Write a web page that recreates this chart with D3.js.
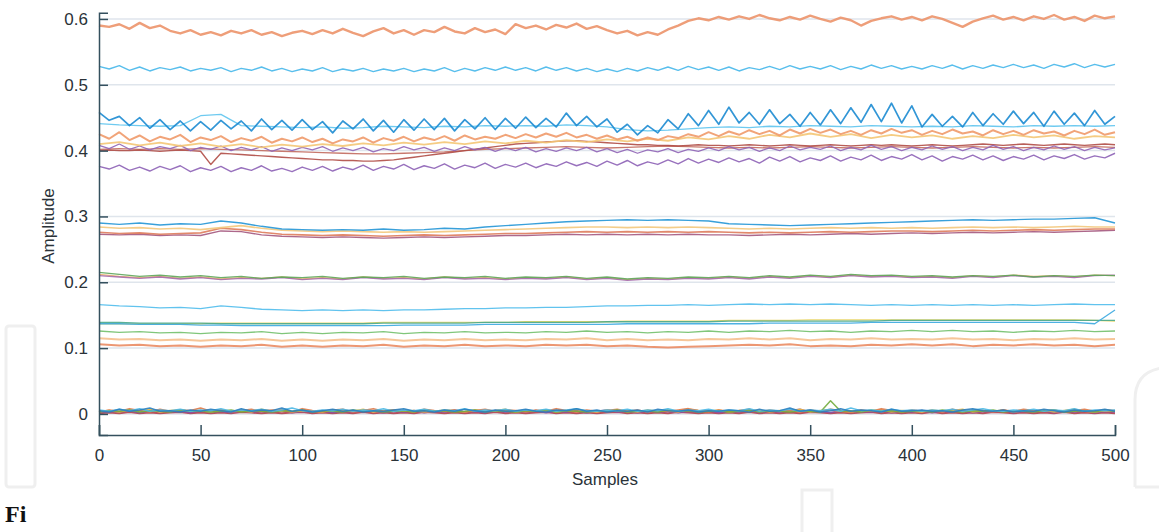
<!DOCTYPE html>
<html>
<head>
<meta charset="utf-8">
<script src="https://cdn.jsdelivr.net/npm/d3@7"></script>
<style>
  body { margin: 0; background: #fff; }
  svg { display: block; font-family: "Liberation Sans", Arial, sans-serif; }
</style>
</head>
<body>
<svg id="chart" width="1159" height="532"></svg>
<script>
// amplitudes in thousandths, samples spread evenly over 0..500
var yTicks = [0, 0.1, 0.2, 0.3, 0.4, 0.5, 0.6]
var xTicks = [0, 50, 100, 150, 200, 250, 300, 350, 400, 450, 500]

// ~0.6 group (step 5)
var topOrange = [590, 588, 592, 585, 594, 586, 590, 582, 578, 583, 576,
  580, 575, 582, 578, 583, 576, 580, 574, 579, 582,
  577, 583, 578, 585, 579, 574, 581, 586, 578, 583,
  576, 583, 580, 588, 581, 578, 586, 580, 584, 577,
  592, 586, 590, 584, 591, 587, 593, 585, 589, 583,
  578, 582, 575, 580, 576, 584, 590, 597, 601, 598,
  603, 599, 604, 600, 606, 601, 598, 603, 599, 605,
  600, 596, 602, 598, 590, 597, 601, 604, 599, 603,
  598, 604, 600, 594, 588, 596, 601, 605, 599, 603,
  598, 604, 600, 606, 599, 603, 597, 605, 601, 604]

var cyan52 = [528, 524, 529, 522, 527, 521, 526, 523, 527, 521, 525,
  522, 526, 520, 525, 522, 527, 521, 525, 520, 524,
  521, 526, 520, 524, 521, 525, 520, 524, 521, 525,
  520, 524, 521, 526, 520, 525, 521, 526, 522, 527,
  522, 526, 521, 527, 522, 526, 521, 525, 520, 524,
  520, 525, 521, 526, 522, 527, 522, 528, 523, 527,
  522, 527, 521, 526, 523, 528, 523, 529, 524, 528,
  524, 529, 523, 528, 524, 530, 525, 529, 524, 528,
  524, 529, 525, 530, 524, 529, 525, 530, 526, 531,
  526, 530, 525, 531, 527, 532, 526, 531, 527, 531]

// 0.37 - 0.47 group
var blue44 = [458, 446, 452, 438, 450, 434, 447, 432, 445, 430, 444,
  431, 446, 433, 445, 430, 448, 432, 446, 431, 447,
  432, 444, 427, 445, 433, 448, 430, 446, 428, 447,
  431, 448, 432, 449, 430, 447, 433, 450, 432, 449,
  434, 451, 435, 449, 436, 457, 438, 452, 436, 448,
  428, 440, 424, 438, 427, 447, 433, 456, 438, 461,
  440, 466, 442, 458, 440, 462, 441, 455, 437, 458,
  439, 462, 441, 465, 443, 470, 444, 472, 442, 468,
  436, 455, 437, 452, 436, 458, 438, 456, 440, 460,
  441, 458, 437, 460, 440, 457, 438, 461, 440, 452]

var lightCyan44 = [441, 439, 438, 437, 438, 453, 455, 438, 437, 436, 435,
  436, 434, 435, 437, 436, 435, 437, 436, 438, 437,
  438, 437, 439, 438, 436, 432, 430, 431, 433, 435,
  436, 435, 437, 436, 438, 437, 436, 438, 437, 436,
  437, 436, 438, 437, 436, 438, 437, 438, 437, 438]

var orange42 = [425, 418, 428, 416, 423, 414, 421, 417, 424, 413, 420,
  416, 422, 413, 419, 415, 421, 412, 418, 414, 420,
  413, 418, 411, 417, 414, 420, 412, 419, 415, 421,
  414, 420, 416, 422, 415, 423, 417, 421, 418, 424,
  419, 425, 420, 426, 421, 427, 420, 424, 418, 423,
  417, 421, 415, 420, 416, 422, 419, 425, 421, 428,
  422, 429, 424, 431, 425, 430, 423, 432, 426, 433,
  427, 432, 425, 430, 424, 431, 426, 433, 427, 431,
  424, 430, 425, 432, 426, 429, 423, 431, 425, 430,
  424, 431, 426, 429, 423, 430, 425, 432, 424, 428]

var yellow41 = [410, 413, 408, 412, 407, 411, 406, 410, 405, 409, 406,
  410, 407, 411, 408, 412, 409, 413, 410, 414, 411,
  415, 412, 416, 413, 417, 414, 418, 415, 420, 417,
  422, 418, 424, 420, 426, 421, 425, 419, 424, 420,
  423, 418, 422, 419, 424, 420, 423, 418, 422, 420]

var purple40 = [408, 403, 410, 402, 407, 401, 406, 403, 408, 400, 405,
  402, 407, 400, 405, 401, 406, 399, 404, 400, 405,
  401, 406, 399, 404, 400, 405, 398, 403, 400, 406,
  401, 405, 399, 404, 400, 406, 401, 405, 399, 404,
  400, 405, 398, 403, 399, 404, 400, 405, 398, 403,
  397, 402, 396, 401, 398, 403, 397, 402, 399, 404,
  400, 406, 401, 405, 399, 404, 400, 407, 401, 405,
  402, 407, 400, 405, 401, 408, 402, 406, 400, 405,
  401, 407, 402, 406, 400, 405, 401, 408, 402, 406,
  400, 405, 401, 407, 402, 406, 400, 405, 401, 404]

var darkRed40 = [400, 401, 400, 400, 401, 400, 399, 400, 401, 400, 399,
  379, 396, 395, 394, 393, 392, 391, 390, 389, 388,
  387, 386, 386, 385, 385, 384, 384, 385, 386, 388,
  390, 392, 394, 396, 398, 400, 402, 404, 406, 408,
  410, 411, 412, 413, 414, 415, 415, 414, 413, 412,
  411, 410, 409, 409, 408, 408, 407, 408, 409, 408,
  408, 407, 408, 409, 408, 407, 408, 409, 408, 407,
  408, 409, 408, 407, 408, 409, 408, 409, 408, 407,
  408, 409, 408, 407, 408, 409, 410, 409, 408, 409,
  410, 409, 408, 409, 410, 409, 408, 409, 410, 409]

var brown40 = [402, 403, 402, 403, 402, 403, 402, 401, 400, 399, 398,
  397, 396, 395, 395, 396, 397, 398, 400, 402, 403,
  404, 405, 406, 405, 404, 405, 406, 407, 406, 405,
  404, 405, 404, 405, 406, 405, 404, 405, 406, 405,
  404, 405, 406, 405, 404, 405, 404, 405, 406, 405]

var purple38 = [376, 372, 378, 370, 375, 369, 376, 371, 377, 368, 374,
  370, 376, 368, 374, 370, 377, 369, 373, 368, 375,
  370, 376, 369, 375, 371, 378, 370, 376, 372, 379,
  371, 377, 373, 380, 372, 378, 374, 381, 373, 379,
  375, 381, 374, 380, 376, 383, 377, 382, 376, 384,
  378, 385, 377, 383, 379, 386, 380, 388, 381, 387,
  382, 389, 383, 388, 381, 390, 384, 391, 383, 389,
  385, 392, 384, 390, 386, 393, 385, 391, 387, 394,
  386, 392, 384, 391, 387, 393, 386, 392, 385, 391,
  387, 393, 386, 392, 388, 394, 387, 392, 389, 396]

// ~0.28 group (step 10)
var blue29 = [290, 288, 290, 287, 289, 288, 293, 290, 285, 281, 280,
  279, 280, 279, 281, 279, 280, 282, 281, 284, 286,
  288, 290, 292, 293, 294, 295, 294, 295, 294, 293,
  289, 288, 287, 286, 287, 288, 289, 290, 291, 292,
  293, 294, 295, 294, 295, 296, 296, 297, 298, 290]
var yellow28 = [284, 282, 283, 281, 282, 280, 283, 286, 282, 279, 278,
  277, 278, 277, 276, 277, 276, 277, 278, 279, 280,
  281, 282, 283, 284, 284, 283, 284, 283, 284, 283,
  282, 281, 282, 281, 282, 283, 282, 283, 282, 283,
  282, 283, 284, 283, 284, 283, 284, 285, 284, 284]
var red27 = [276, 274, 275, 273, 274, 275, 282, 280, 276, 273, 272,
  271, 272, 271, 270, 271, 272, 271, 272, 273, 274,
  274, 275, 276, 277, 276, 277, 276, 277, 276, 277,
  276, 275, 276, 275, 276, 277, 276, 277, 278, 278,
  277, 278, 279, 278, 279, 280, 279, 280, 281, 281]
var plum27 = [273, 272, 273, 271, 272, 271, 278, 277, 272, 270, 269,
  268, 269, 268, 267, 268, 269, 268, 269, 270, 271,
  271, 272, 273, 272, 273, 272, 273, 272, 273, 272,
  272, 271, 272, 273, 272, 273, 274, 273, 274, 275,
  274, 275, 276, 275, 276, 277, 276, 277, 278, 279]

// ~0.21 group
var green21 = [215, 212, 209, 211, 208, 210, 207, 209, 206, 208, 207,
  209, 206, 208, 207, 209, 206, 208, 207, 209, 206,
  208, 207, 209, 206, 208, 205, 207, 206, 208, 207,
  209, 207, 210, 208, 211, 209, 212, 210, 211, 209,
  210, 208, 210, 209, 211, 208, 210, 209, 211, 210]
var purple21 = [210, 208, 206, 208, 205, 207, 204, 206, 205, 207, 204,
  206, 204, 207, 205, 206, 204, 207, 205, 206, 204,
  206, 205, 207, 204, 206, 203, 205, 204, 206, 205,
  207, 205, 208, 206, 209, 207, 210, 208, 209, 207,
  208, 206, 209, 207, 210, 208, 209, 207, 210, 211]
var amber21 = [212, 209, 207, 209, 206, 208, 205, 207, 206, 208, 205,
  207, 205, 208, 206, 207, 205, 208, 206, 207, 205,
  207, 206, 208, 205, 207, 204, 206, 205, 207, 206,
  208, 206, 209, 207, 210, 208, 211, 209, 210, 208,
  209, 207, 210, 208, 211, 209, 210, 208, 211, 210]

// 0.10 - 0.17 group
var cyan16 = [166, 164, 163, 161, 162, 160, 164, 162, 159, 158, 157,
  158, 157, 158, 157, 158, 158, 159, 160, 160, 161,
  161, 162, 162, 163, 164, 164, 165, 165, 166, 165,
  166, 167, 166, 167, 166, 167, 166, 165, 166, 165,
  166, 165, 166, 165, 166, 165, 166, 167, 166, 166]
var blue13 = [137, 137, 136, 136, 136, 135, 135, 134, 134, 134, 134,
  134, 134, 134, 134, 135, 135, 135, 135, 136, 136,
  136, 136, 136, 136, 136, 137, 137, 137, 137, 137,
  137, 137, 138, 138, 138, 138, 138, 139, 139, 139,
  139, 139, 139, 139, 139, 139, 139, 139, 137, 158]
var teal14 = [139, 139, 138, 138, 138, 138, 137, 137, 137, 137, 137,
  137, 137, 137, 138, 138, 138, 138, 138, 139, 139,
  139, 139, 139, 139, 140, 140, 140, 140, 140, 140,
  141, 141, 141, 141, 141, 141, 141, 141, 142, 142,
  142, 142, 142, 142, 142, 142, 142, 142, 142, 142]
var yellow14 = [137, 137, 137, 137, 137, 137, 138, 138, 138, 138, 138,
  138, 138, 138, 139, 139, 139, 139, 139, 139, 139,
  140, 140, 140, 140, 140, 141, 141, 141, 141, 141,
  142, 142, 142, 142, 143, 143, 143, 143, 143, 143,
  143, 143, 143, 143, 143, 143, 143, 143, 142, 141]
var green12 = [126, 124, 125, 123, 124, 122, 124, 123, 125, 122, 124,
  122, 124, 123, 125, 122, 124, 123, 125, 123, 124,
  123, 125, 124, 126, 124, 125, 123, 125, 124, 126,
  124, 126, 125, 127, 125, 126, 124, 126, 125, 127,
  125, 127, 125, 126, 124, 126, 125, 127, 125, 126]
var peach11 = [115, 113, 114, 112, 113, 111, 113, 112, 114, 111, 113,
  111, 113, 112, 114, 111, 113, 112, 114, 112, 113,
  112, 114, 113, 115, 112, 114, 112, 113, 112, 114,
  113, 115, 113, 115, 112, 114, 113, 115, 113, 114,
  113, 115, 113, 114, 112, 114, 113, 115, 113, 114]
var orange10 = [106, 104, 105, 103, 104, 102, 104, 103, 105, 102, 104,
  102, 104, 103, 105, 102, 104, 103, 105, 103, 104,
  103, 105, 104, 105, 103, 104, 102, 101, 102, 103,
  104, 105, 104, 106, 103, 104, 103, 105, 104, 106,
  104, 106, 103, 105, 104, 106, 104, 105, 103, 105]

// near-zero noise group (step 5)
var noiseBlue = [5,3,7,4,6,9,4,5,3,6,4, 7,5,3,8,4,6,5,9,4,6, 3,5,7,4,6,3,5,4,6,8, 4,5,3,6,4,7,5,3,6,4, 5,7,4,3,6,5,8,4,6,3,
  5,4,6,3,7,5,4,6,3,5, 4,6,5,3,7,4,5,9,4,6, 3,5,8,4,6,5,3,7,4,5, 6,4,5,3,6,8,5,4,6,3, 5,4,7,5,3,6,4,5,7,4]
var noiseOrange = [3,6,4,8,5,3,7,4,6,5,9, 4,6,3,5,7,4,6,5,3,8, 5,4,6,7,3,5,8,4,6,5, 3,7,5,4,6,3,5,7,4,6, 5,3,6,4,8,5,3,6,4,5,
  7,4,6,3,5,4,6,8,5,3, 6,4,5,7,3,6,4,5,3,6, 4,7,5,3,6,4,8,5,3,6, 4,5,3,7,4,6,5,3,6,4, 7,5,4,6,3,5,7,4,6,5]
var noiseYellow = [4,5,3,6,4,7,3,5,6,4,5, 3,6,4,5,3,7,4,6,3,5, 4,3,6,5,4,7,3,5,6,4, 5,3,4,6,5,3,6,4,5,7, 3,5,4,6,3,5,7,4,3,6,
  4,5,3,6,4,5,3,7,5,4, 6,3,5,4,6,3,5,4,7,3, 5,6,4,3,5,4,6,3,5,4, 3,6,4,5,7,3,5,4,6,3, 5,4,6,3,5,7,4,3,5,4]
var noisePurple = [2,4,3,5,2,4,6,3,4,2,5, 3,4,2,5,3,4,3,6,2,4, 3,5,2,4,3,5,4,2,4,3, 5,2,4,3,6,3,4,2,5,3, 4,3,5,2,4,3,5,2,4,6,
  3,4,2,5,3,4,2,4,3,5, 2,4,3,6,2,4,3,5,7,3, 4,2,5,3,4,3,6,2,4,3, 5,2,4,3,5,2,4,3,6,2, 4,3,5,2,4,3,5,2,4,3]
var noiseGreen = [3,5,4,6,3,5,4,3,6,4,5, 3,4,6,3,5,4,3,5,4,6, 3,5,4,3,6,4,5,3,4,5, 3,6,4,5,3,4,6,3,5,4, 3,5,4,6,3,5,4,3,5,4,
  6,3,4,5,3,6,4,5,3,4, 5,3,4,6,3,5,4,3,5,4, 3,20,4,5,3,6,4,5,3,4, 5,3,6,4,3,5,4,6,3,5, 4,3,5,6,3,4,5,3,6,4]
var noiseCyan = [6,4,7,5,8,4,6,5,7,4,6, 5,8,4,6,5,7,4,6,9,5, 4,6,5,7,4,6,5,8,4,6, 5,7,4,6,5,8,4,6,5,7, 4,6,5,7,4,6,8,5,4,6,
  5,7,4,6,5,8,4,6,5,7, 4,6,5,8,4,6,5,7,4,6, 5,7,4,9,5,6,4,7,5,6, 4,6,5,7,4,6,8,5,4,6, 5,7,4,6,5,8,4,6,5,6]
var noiseRed = [1,2,1,3,1,2,1,2,3,1,2, 1,2,1,3,2,1,2,1,2,3, 1,2,1,2,1,3,1,2,1,2, 1,3,2,1,2,1,2,1,3,1, 2,1,2,3,1,2,1,2,1,2,
  3,1,2,1,2,1,3,2,1,2, 1,2,1,3,1,2,1,2,1,3, 2,1,2,1,2,3,1,2,1,2, 1,3,1,2,1,2,1,3,2,1, 2,1,2,1,3,1,2,1,2,1]

var series = [
  { v: noiseRed, c: "#b0404a", w: 2 },
  { v: noisePurple, c: "#8c4f9e", w: 1.6 },
  { v: noiseYellow, c: "#e9b740", w: 1.6 },
  { v: noiseOrange, c: "#e07a48", w: 1.6 },
  { v: noiseGreen, c: "#74ad3e", w: 1.5 },
  { v: noiseCyan, c: "#4bb8e6", w: 1.5 },
  { v: noiseBlue, c: "#2a7fc0", w: 1.5 },
  { v: orange10, c: "#ea8c64", w: 2 },
  { v: peach11, c: "#f5c08e", w: 2 },
  { v: green12, c: "#72c06c", w: 1.3 },
  { v: yellow14, c: "#e8d45e", w: 1.3 },
  { v: teal14, c: "#49a98c", w: 1.3 },
  { v: blue13, c: "#3aa8e0", w: 1.3 },
  { v: cyan16, c: "#50bdec", w: 1.3 },
  { v: amber21, c: "#ecb46a", w: 1.3 },
  { v: purple21, c: "#a56aac", w: 1.3 },
  { v: green21, c: "#5ea65a", w: 1.3 },
  { v: plum27, c: "#a4587e", w: 1.4 },
  { v: red27, c: "#de7c5c", w: 1.6 },
  { v: yellow28, c: "#f3c87c", w: 1.6 },
  { v: blue29, c: "#2396d6", w: 1.4 },
  { v: purple38, c: "#8d62b6", w: 1.4 },
  { v: brown40, c: "#c26a5e", w: 1.3 },
  { v: darkRed40, c: "#b04c46", w: 1.4 },
  { v: purple40, c: "#9064b6", w: 1.3 },
  { v: yellow41, c: "#f4c676", w: 1.8 },
  { v: orange42, c: "#ef9a6a", w: 2 },
  { v: lightCyan44, c: "#5ec4ee", w: 1.3 },
  { v: blue44, c: "#1c8bd2", w: 1.7 },
  { v: cyan52, c: "#46b7ea", w: 1.4 },
  { v: topOrange, c: "#ec946a", w: 2.4 }
]

var svg = d3.select("#chart")

var x = d3.scaleLinear().domain([0, 500]).range([99, 1115])
var y = d3.scaleLinear().domain([-0.032, 0.6095]).range([435, 12.7])

// watermark outlines
var wm = svg.append("g").attr("fill", "none").attr("stroke", "#efefef").attr("stroke-width", 3)
wm.append("rect").attr("x", 6).attr("y", 326).attr("width", 29).attr("height", 161).attr("rx", 3)
wm.append("path").attr("d", "M1135,487 L1135,400 Q1135,372 1162,368")
wm.append("path").attr("d", "M1135,487 L1162,487")
wm.append("path").attr("d", "M802,535 L802,490 L832,490 L832,535")

// grid lines
svg.append("g").selectAll("line").data(yTicks).enter().append("line")
  .attr("x1", x(0)).attr("x2", x(500))
  .attr("y1", d => y(d)).attr("y2", d => y(d))
  .attr("stroke", "#dfe5ec").attr("stroke-width", 1.5)

var line = d3.line()
  .x((d, i, arr) => x(i * 500 / (arr.length - 1)))
  .y(d => y(d / 1000))

svg.append("g").selectAll("path").data(series).enter().append("path")
  .attr("d", d => line(d.v))
  .attr("fill", "none")
  .attr("stroke", d => d.c)
  .attr("stroke-width", d => d.w)
  .attr("stroke-opacity", 0.9)
  .attr("stroke-linejoin", "round")

// axes with inward ticks
var axisColor = "#34505e"
var yAxis = svg.append("g").attr("transform", "translate(" + x(0) + ",0)")
  .call(d3.axisLeft(y).tickValues(yTicks).tickSize(-9).tickPadding(11).tickFormat(d => d === 0 ? "0" : d3.format(".1f")(d)))
var xAxis = svg.append("g").attr("transform", "translate(0," + y(-0.032) + ")")
  .call(d3.axisBottom(x).tickValues(xTicks).tickSize(-10).tickPadding(14))

;[xAxis, yAxis].forEach(function (g) {
  g.select(".domain").attr("stroke", axisColor).attr("stroke-width", 1.5)
  g.selectAll(".tick line").attr("stroke", axisColor).attr("stroke-width", 1.5)
  g.selectAll(".tick text").attr("fill", "#2a3238").style("font-size", "17px").style("font-family", "'Liberation Sans', Arial, sans-serif")
})

svg.append("text")
  .attr("x", 605).attr("y", 485)
  .attr("text-anchor", "middle")
  .attr("fill", "#2a3238")
  .style("font-size", "17px")
  .text("Samples")

svg.append("text")
  .attr("transform", "translate(54,226) rotate(-90)")
  .attr("text-anchor", "middle")
  .attr("fill", "#2a3238")
  .style("font-size", "17px")
  .text("Amplitude")

// caption fragment near the bottom edge
svg.append("text")
  .attr("x", 5).attr("y", 522)
  .attr("fill", "#111")
  .style("font-family", "'Liberation Serif', 'DejaVu Serif', serif")
  .style("font-weight", "bold")
  .style("font-size", "24px")
  .text("Fi")
</script>
</body>
</html>
